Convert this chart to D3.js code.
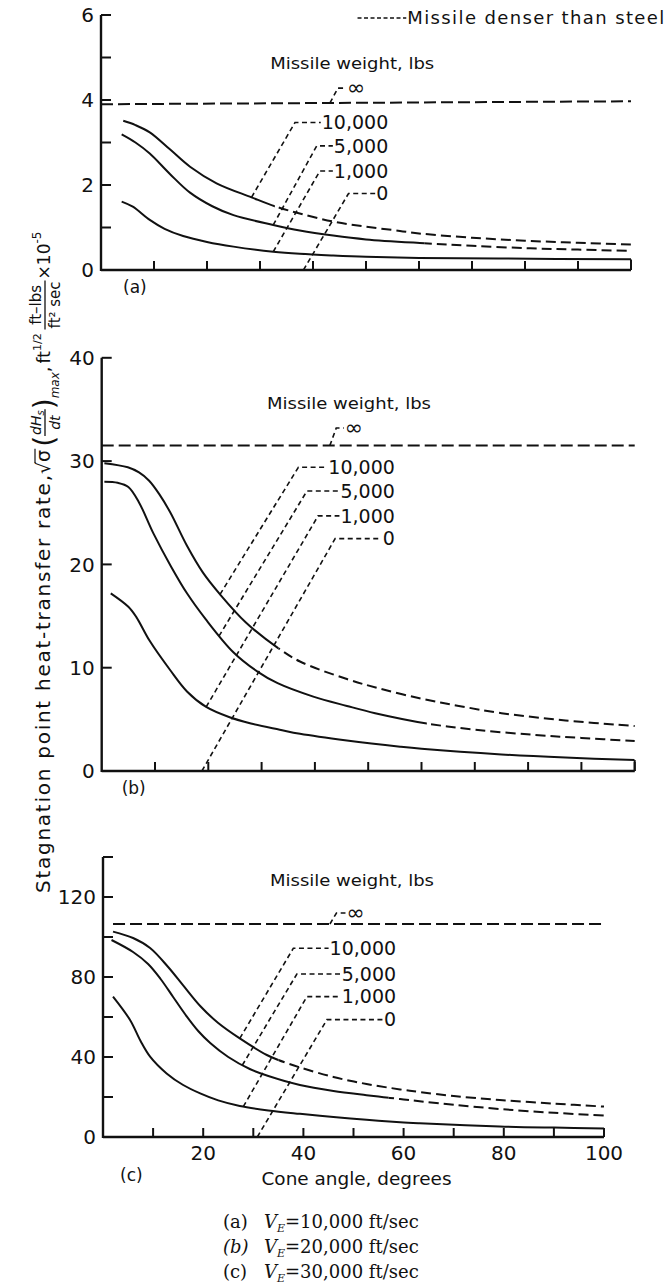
<!DOCTYPE html>
<html><head><meta charset="utf-8">
<script src="https://cdn.jsdelivr.net/npm/d3@7"></script>
<style>body{margin:0;background:#fff}svg{display:block}text{fill:#111}</style>
</head><body>
<svg id="chart" width="666" height="1286"></svg>
<script>
// ---------------- data ----------------
const coneTickLabels = [20, 40, 60, 80, 100];
const coneMinorTicks = [10, 20, 30, 40, 50, 60, 70, 80, 90, 100];
const yTicksA = [0,1,2,3,4,5,6],  yLabelsA = [0,2,4,6];
const yTicksB = [0,10,20,30,40],  yLabelsB = [0,10,20,30,40];
const yTicksC = [0,20,40,60,80,100,120,140], yLabelsC = [0,40,80,120];
const weightLabels = ["\u221E", "10,000", "5,000", "1,000", "0"];
const panelTags = ["(a)", "(b)", "(c)"];
const captionTags = ["(a)", "(b)", "(c)"];
const captionSpeeds = ["10,000", "20,000", "30,000"];

// Panel (a) V_E = 10,000 ft/sec  [cone angle, value x10^-5]
const a_inf   = [[0,3.90],[100,3.97]];
const a_10000 = [[4.2,3.51],[6.5,3.41],[9.2,3.24],[13,2.84],[16.8,2.43],[21.8,2.04],[28.4,1.71],[32.8,1.50],[37.5,1.33],[43.8,1.14],[50,1.02],[56.4,0.92],[60,0.86],[70,0.76],[80,0.69],[90,0.64],[100,0.60]];
const a_5000  = [[3.9,3.19],[6.5,3.00],[9.2,2.74],[13,2.26],[16.8,1.82],[21,1.50],[25,1.29],[32.5,1.06],[37.5,0.93],[43.8,0.81],[50,0.72],[61,0.63],[70,0.57],[81,0.51],[90,0.48],[100,0.45]];
const a_1000  = [[3.9,1.61],[6,1.49],[9.2,1.18],[12,0.97],[15.5,0.80],[20,0.66],[25,0.55],[32.5,0.43],[37.5,0.38],[43.8,0.34],[50,0.31],[60,0.285],[75,0.27],[100,0.25]];
const a_0     = [[0,0],[100,0]];
const a_solidTo = [32.8, 61, 100];

// Panel (b) V_E = 20,000 ft/sec
const b_inf   = [[0,31.5],[100,31.5]];
const b_10000 = [[0.5,29.8],[4.9,29.4],[7,28.9],[8.9,28.1],[10.8,26.8],[12.9,25.0],[16,21.8],[19,19.2],[22.2,17.1],[27,14.4],[33.1,11.9],[37.2,10.6],[46,8.9],[52,8.0],[60,7.0],[67,6.3],[75,5.6],[87,4.9],[100,4.35]];
const b_5000  = [[0.5,28.0],[3,27.9],[5,27.5],[7,26.0],[9.7,23.0],[13,19.8],[16,17.2],[19.5,14.7],[24.7,11.5],[29.3,9.6],[33,8.5],[39.7,7.2],[46,6.3],[51.3,5.6],[61,4.6],[70,4.0],[81,3.5],[90,3.2],[100,2.9]];
const b_1000  = [[1.7,17.2],[5,15.9],[6.5,14.9],[9,12.6],[12.8,9.8],[16,7.7],[19.6,6.2],[24,5.2],[28,4.6],[33.4,4.0],[37.2,3.6],[46,2.95],[56,2.35],[60,2.15],[75,1.6],[87,1.3],[100,1.06]];
const b_0     = [[0,0],[100,0]];
const b_solidTo = [33.2, 61, 100];

// Panel (c) V_E = 30,000 ft/sec
const c_inf   = [[2,106.5],[100,106.5]];
const c_10000 = [[2,102.7],[6,99.5],[9.4,94.5],[13,85],[16,75.8],[19.4,65.5],[23,57],[27.3,49.3],[32.7,41],[35,38.5],[39.3,34.8],[46,30],[52.6,26.5],[59.3,23.8],[63.2,22.5],[70,20.5],[79.2,18.5],[90,16.7],[100,15.2]];
const c_5000  = [[1.7,98.5],[6,92.5],[9,86.5],[11.5,79],[14,70],[16.5,61],[19,53],[21.4,47],[25,40],[29.3,34],[33,30.5],[39.3,26],[46,23],[52.6,20.9],[56,19.9],[59.3,19.0],[63.2,17.9],[70,16.1],[79.2,14.0],[90,12.1],[100,10.7]];
const c_1000  = [[2,70.2],[5.4,58.5],[7.5,48],[9.4,40.2],[12.7,31.8],[16,26],[19.4,21.8],[23,18.3],[27.3,15.5],[33,13.3],[39.3,11.6],[46,10.0],[52.6,8.6],[59.3,7.4],[63.2,6.9],[79.2,5.3],[90,4.7],[100,4.3]];
const c_0     = [[0,0],[100,0]];
const c_solidTo = [35, 57, 100];

// leader annotations (order: inf, 10000, 5000, 1000, 0)
const a_leaderEnd = [43.2, 28.4, 32.5, 32.5, 38.2];
const a_elbowDeg  = [44.7, 36.6, 40.7, 41.3, 46.7];
const a_labelVal  = [4.28, 3.47, 2.92, 2.33, 1.80];
const b_leaderEnd = [42.8, 22.2, 22.0, 19.6, 18.8];
const b_elbowDeg  = [44.0, 36.9, 38.5, 40.6, 43.8];
const b_labelVal  = [33.2, 29.4, 27.1, 24.7, 22.5];
const c_leaderEnd = [45.3, 27.3, 27.8, 28.0, 30.8];
const c_elbowDeg  = [46.6, 38.0, 38.7, 40.7, 44.7];
const c_labelVal  = [112.0, 94.4, 81.5, 70.2, 58.7];
const labelRightDeg = [54.2, 55.0, 58.5];
const infLabelDeg   = [46.4, 45.6, 48.6];
const weightTitlePos = [[47.4, 4.87], [46.4, 35.6], [49.7, 128.5]];

// ---------------- layout ----------------
const svg = d3.select("#chart");
const FONT = "'DejaVu Sans', 'Liberation Sans', sans-serif";
const INK = "#111";

const panels = [
  {x: d3.scaleLinear([0,100],[101,631]),   y: d3.scaleLinear([0,6],[270,15]),
   yTicks: yTicksA, yLabels: yLabelsA, inf: a_inf, curves: [a_10000,a_5000,a_1000], zero: a_0, solidTo: a_solidTo,
   end: a_leaderEnd, elbow: a_elbowDeg, lval: a_labelVal, tag: panelTags[0], tagDx: 22, tagDy: 17},
  {x: d3.scaleLinear([0,100],[101.7,634.7]), y: d3.scaleLinear([0,40],[771,357.8]),
   yTicks: yTicksB, yLabels: yLabelsB, inf: b_inf, curves: [b_10000,b_5000,b_1000], zero: b_0, solidTo: b_solidTo,
   end: b_leaderEnd, elbow: b_elbowDeg, lval: b_labelVal, tag: panelTags[1], tagDx: 20, tagDy: 17},
  {x: d3.scaleLinear([0,100],[103,604]),   y: d3.scaleLinear([0,140],[1137,857]),
   yTicks: yTicksC, yLabels: yLabelsC, inf: c_inf, curves: [c_10000,c_5000,c_1000], zero: c_0, solidTo: c_solidTo,
   end: c_leaderEnd, elbow: c_elbowDeg, lval: c_labelVal, tag: panelTags[2], tagDx: 17, tagDy: 38}
];

const defs = svg.append("defs");

function pointAtX(node, tx) {
  let lo = 0, hi = node.getTotalLength();
  for (let i = 0; i < 40; i++) {
    const m = (lo + hi) / 2;
    if (node.getPointAtLength(m).x < tx) lo = m; else hi = m;
  }
  return node.getPointAtLength((lo + hi) / 2);
}

panels.forEach((P, pi) => {
  const g = svg.append("g");
  const x = P.x, y = P.y;
  const x0 = x(0), y0 = y(0);
  const line = d3.line().x(d => x(d[0])).y(d => y(d[1])).curve(d3.curveCatmullRom.alpha(0.5));

  // axes
  g.append("line").attr("x1", x0).attr("x2", x0).attr("y1", y0 + 1).attr("y2", y(P.yTicks[P.yTicks.length-1]))
    .attr("stroke", INK).attr("stroke-width", 2.4);
  g.append("line").attr("x1", x0).attr("x2", x(100)).attr("y1", y0).attr("y2", y0)
    .attr("stroke", INK).attr("stroke-width", 2.4);
  P.yTicks.forEach(v => g.append("line").attr("x1", x0).attr("x2", x0 + 10).attr("y1", y(v)).attr("y2", y(v))
    .attr("stroke", INK).attr("stroke-width", 2));
  P.yLabels.forEach(v => g.append("text").attr("x", x0 - 7).attr("y", y(v)).attr("dy", "0.36em")
    .attr("text-anchor", "end").attr("font-family", FONT).attr("font-size", 20).text(v));
  coneMinorTicks.forEach(d => g.append("line").attr("x1", x(d)).attr("x2", x(d)).attr("y1", y0).attr("y2", y0 - 9)
    .attr("stroke", INK).attr("stroke-width", 2));
  if (pi === 2) {
    coneTickLabels.forEach(d => g.append("text").attr("x", x(d)).attr("y", y0 + 16).attr("dy", "0.36em")
      .attr("text-anchor", "middle").attr("font-family", FONT).attr("font-size", 20).text(d));
    g.append("text").attr("x", (x(0) + x(100)) / 2 + 3).attr("y", y0 + 42).attr("dy", "0.36em")
      .attr("text-anchor", "middle").attr("font-family", FONT).attr("font-size", 17)
      .attr("textLength", 190).attr("lengthAdjust", "spacingAndGlyphs").text("Cone angle, degrees");
  }
  g.append("text").attr("x", x0 + P.tagDx).attr("y", y0 + P.tagDy).attr("dy", "0.36em")
    .attr("font-family", FONT).attr("font-size", 17).text(P.tag);

  // infinite-weight line
  g.append("path").datum(P.inf).attr("d", d3.line().x(d => x(d[0])).y(d => y(d[1])))
    .attr("fill", "none").attr("stroke", INK).attr("stroke-width", 2).attr("stroke-dasharray", "12,5");
  // zero-weight line (coincides with axis)
  g.append("path").datum(P.zero).attr("d", d3.line().x(d => x(d[0])).y(d => y(d[1])))
    .attr("fill", "none").attr("stroke", INK).attr("stroke-width", 1);

  // curves: solid part then dashed (missile denser than steel)
  const curveNodes = [];
  P.curves.forEach((data, ci) => {
    const xs = x(P.solidTo[ci]);
    const idS = `clipS${pi}_${ci}`, idD = `clipD${pi}_${ci}`;
    defs.append("clipPath").attr("id", idS).append("rect").attr("x", 0).attr("y", 0).attr("width", xs).attr("height", 1286);
    defs.append("clipPath").attr("id", idD).append("rect").attr("x", xs).attr("y", 0).attr("width", 666 - xs).attr("height", 1286);
    const full = g.append("path").datum(data).attr("d", line).attr("fill", "none").attr("stroke", "none");
    curveNodes.push(full.node());
    g.append("path").datum(data).attr("d", line).attr("fill", "none").attr("stroke", INK)
      .attr("stroke-width", 2).attr("clip-path", `url(#${idS})`);
    if (P.solidTo[ci] < 100)
      g.append("path").datum(data).attr("d", line).attr("fill", "none").attr("stroke", INK)
        .attr("stroke-width", 2).attr("stroke-dasharray", "10,5").attr("clip-path", `url(#${idD})`);
  });
  // closing segment at right end between axis and lowest curve
  const last = P.curves[2][P.curves[2].length - 1];
  g.append("line").attr("x1", x(last[0])).attr("x2", x(last[0])).attr("y1", y0).attr("y2", y(last[1]))
    .attr("stroke", INK).attr("stroke-width", 2);

  // title "Missile weight, lbs"
  const wt = weightTitlePos[pi];
  g.append("text").attr("x", x(wt[0])).attr("y", y(wt[1])).attr("dy", "0.36em").attr("text-anchor", "middle")
    .attr("font-family", FONT).attr("font-size", 16).attr("textLength", 164).attr("lengthAdjust", "spacingAndGlyphs")
    .text("Missile weight, lbs");

  // labels + leaders
  weightLabels.forEach((lab, li) => {
    const ly = y(P.lval[li]);
    let t;
    if (li === 0) {
      t = g.append("text").attr("x", x(infLabelDeg[pi])).attr("y", ly).attr("dy", "0.33em")
        .attr("font-family", FONT).attr("font-size", 22).text(lab);
    } else {
      t = g.append("text").attr("x", x(labelRightDeg[pi])).attr("y", ly).attr("dy", "0.36em")
        .attr("text-anchor", "end").attr("font-family", FONT).attr("font-size", 19).text(lab);
    }
    const bb = t.node().getBBox();
    let ex, ey;
    if (li === 0) { ex = x(P.end[0]); ey = y(d3.scaleLinear([P.inf[0][0], P.inf[1][0]], [P.inf[0][1], P.inf[1][1]])(P.end[0])); }
    else if (li === 4) { ex = x(P.end[4]); ey = y0; }
    else { const p = pointAtX(curveNodes[li - 1], x(P.end[li])); ex = p.x; ey = p.y; }
    const exx = x(P.elbow[li]);
    g.append("path").attr("d", `M${ex},${ey}L${exx},${ly}L${bb.x - 1},${ly}`)
      .attr("fill", "none").attr("stroke", INK).attr("stroke-width", 1.6).attr("stroke-dasharray", "5,3.5");
  });
});

// legend at top
const lx0 = panels[0].x(48.4), lx1 = panels[0].x(57.6);
svg.append("line").attr("x1", lx0).attr("x2", lx1).attr("y1", 18).attr("y2", 18)
  .attr("stroke", INK).attr("stroke-width", 1.6).attr("stroke-dasharray", "4,2.5");
svg.append("text").attr("x", lx1 + 1).attr("y", 18).attr("dy", "0.36em").attr("font-family", FONT)
  .attr("font-size", 18).attr("textLength", 257).attr("lengthAdjust", "spacing").text("Missile denser than steel");

// y-axis title (rotated)
const tg = svg.append("g").attr("transform", "translate(50,893) rotate(-90)").attr("font-family", FONT);
let px = 0;
function piece(str, size, dy, opts = {}) {
  const t = tg.append("text").attr("x", px).attr("y", dy).attr("font-size", size).text(str);
  if (opts.italic) t.attr("font-style", "italic");
  if (opts.len) t.attr("textLength", opts.len).attr("lengthAdjust", "spacing");
  const w = opts.len || t.node().getComputedTextLength();
  const start = px;
  px += w + (opts.gap || 0);
  return [start, start + w];
}
function frac(numFn, denStr, size, numDy, denDy, barDy, italic, gap) {
  const n = tg.append("text").attr("y", numDy).attr("font-size", size).attr("text-anchor", "middle");
  if (italic) n.attr("font-style", "italic");
  numFn(n);
  const d = tg.append("text").attr("y", denDy).attr("font-size", size).attr("text-anchor", "middle").text(denStr);
  if (italic) d.attr("font-style", "italic");
  const w = Math.max(n.node().getComputedTextLength(), d.node().getComputedTextLength()) + 2;
  n.attr("x", px + w / 2); d.attr("x", px + w / 2);
  tg.append("line").attr("x1", px).attr("x2", px + w).attr("y1", barDy).attr("y2", barDy).attr("stroke", INK).attr("stroke-width", 1.3);
  px += w + gap;
}
piece("Stagnation point heat-transfer rate,", 20, 0, {len: 418, gap: 1});
piece("\u221A", 19, 0);
const sg = piece("\u03C3", 19, 0, {gap: 3});
tg.append("line").attr("x1", sg[0] - 1).attr("x2", sg[1] + 1).attr("y1", -15).attr("y2", -15).attr("stroke", INK).attr("stroke-width", 1.2);
piece("(", 28, 4);
frac(n => { n.append("tspan").text("dH"); n.append("tspan").attr("font-size", 10).attr("dy", 3).text("s"); },
     "dt", 14, -9, 10, -5, true, 0);
piece(")", 28, 4);
piece("max", 12, 9, {italic: true});
piece(",", 18, 0, {gap: 3});
piece("ft", 17, 0);
piece("1/2", 11, -9, {gap: 4});
frac(n => n.text("ft\u2013lbs"), "ft\u00B2 sec", 15, -9, 10, -5, false, 1);
piece("\u00D710", 17, 0);
piece("-5", 12, -9);

// caption
const SERIF = "'DejaVu Serif', 'Liberation Serif', serif";
captionTags.forEach((tag, i) => {
  const yy = 1228 + 25 * i;
  svg.append("text").attr("x", 223).attr("y", yy).attr("font-family", SERIF).attr("font-size", 18)
    .attr("font-style", i === 1 ? "italic" : null).text(tag);
  const t = svg.append("text").attr("x", 264).attr("y", yy).attr("font-family", SERIF).attr("font-size", 18);
  t.append("tspan").attr("font-style", "italic").text("V");
  t.append("tspan").attr("font-style", "italic").attr("font-size", 11).attr("dy", 4).text("E");
  t.append("tspan").attr("dy", -4).text("=" + captionSpeeds[i] + " ft/sec");
});
</script>
</body></html>
